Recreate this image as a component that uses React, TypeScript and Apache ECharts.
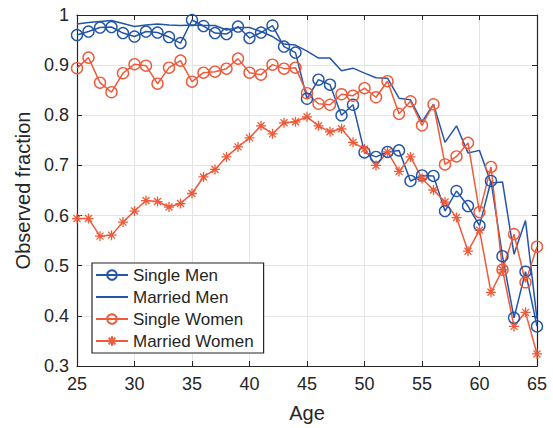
import React, { useEffect, useRef } from "react";
import * as echarts from "echarts";

const ages = [25,26,27,28,29,30,31,32,33,34,35,36,37,38,39,40,41,42,43,44,45,46,47,48,49,50,51,52,53,54,55,56,57,58,59,60,61,62,63,64,65];

const singleMen = [0.960,0.967,0.975,0.976,0.964,0.957,0.967,0.965,0.956,0.944,
  0.990,0.978,0.964,0.962,0.977,0.954,0.965,0.979,0.937,0.925,
  0.833,0.871,0.861,0.800,0.821,0.726,0.717,0.727,0.730,0.669,
  0.680,0.679,0.609,0.649,0.619,0.580,0.669,0.519,0.396,0.488,
  0.379];

const marriedMen = [0.982,0.985,0.987,0.989,0.983,0.977,0.980,0.982,0.980,0.979,
  0.980,0.979,0.979,0.970,0.975,0.975,0.967,0.957,0.942,0.940,
  0.928,0.914,0.914,0.889,0.894,0.884,0.875,0.874,0.834,0.831,
  0.787,0.822,0.746,0.779,0.725,0.730,0.665,0.667,0.523,0.590,
  0.394];

const singleWomen = [0.894,0.915,0.865,0.846,0.884,0.902,0.899,0.863,0.895,0.909,
  0.867,0.885,0.887,0.893,0.913,0.885,0.881,0.901,0.893,0.895,
  0.844,0.823,0.821,0.842,0.839,0.854,0.836,0.868,0.803,0.828,
  0.780,0.822,0.702,0.718,0.745,0.607,0.697,0.492,0.563,0.467,
  0.538];

const marriedWomen = [0.594,0.594,0.559,0.561,0.587,0.609,0.630,0.628,0.617,0.624,
  0.644,0.677,0.692,0.717,0.737,0.755,0.779,0.763,0.785,0.787,
  0.797,0.779,0.767,0.773,0.746,0.733,0.700,0.727,0.688,0.717,
  0.674,0.651,0.627,0.596,0.529,0.571,0.447,0.492,0.379,0.407,
  0.324];

const seriesNames = ["Single Men", "Married Men", "Single Women", "Married Women"];

const BLUE = "#2356a8";
const ORANGE = "#ef5a3a";
const TEXT = "#262626";
const FONT = "Liberation Sans, Arial, sans-serif";
const STAR = "path://M0,-10L0,10M-10,0L10,0M-7,-7L7,7M-7,7L7,-7";

const pairs = (vals: number[]) => ages.map((a, i) => [a, vals[i]]);

export default function App() {
  const ref = useRef<HTMLDivElement>(null);
  useEffect(() => {
    if (!ref.current) return;
    const chart = echarts.init(ref.current, null, { renderer: "svg" });
    const axisLine = { show: true, lineStyle: { color: TEXT, width: 1.2 } };
    const tickIn = { show: true, inside: true, length: 5, lineStyle: { color: TEXT, width: 1 } };
    chart.setOption({
      animation: false,
      backgroundColor: "#ffffff",
      textStyle: { fontFamily: FONT },
      grid: { left: 77, right: 16, top: 15, bottom: 61, containLabel: false },
      legend: {
        data: [
          { name: seriesNames[0] },
          { name: seriesNames[1], itemStyle: { color: "rgba(0,0,0,0)", borderWidth: 0 } },
          { name: seriesNames[2] },
          { name: seriesNames[3] },
        ],
        orient: "vertical",
        left: 92,
        top: 263,
        backgroundColor: "#ffffff",
        borderColor: TEXT,
        borderWidth: 1.2,
        borderRadius: 0,
        padding: [3, 10, 3, 3],
        itemWidth: 32,
        itemHeight: 12,
        itemGap: 4,
        textStyle: { fontSize: 17, color: TEXT, fontFamily: FONT, lineHeight: 18 },
      },
      xAxis: [
        {
          type: "value",
          min: 25,
          max: 65,
          interval: 5,
          name: "Age",
          nameLocation: "middle",
          nameGap: 37,
          nameTextStyle: { fontSize: 20, color: TEXT, fontFamily: FONT },
          axisLine,
          axisTick: tickIn,
          axisLabel: { fontSize: 18, color: TEXT, margin: 9, fontFamily: FONT },
          splitLine: { show: true, lineStyle: { color: "#e4e4e4", width: 1 } },
        },
        {
          type: "value",
          position: "top",
          min: 25,
          max: 65,
          interval: 5,
          axisLine,
          axisTick: tickIn,
          axisLabel: { show: false },
          splitLine: { show: false },
        },
      ],
      yAxis: [
        {
          type: "value",
          min: 0.3,
          max: 1,
          interval: 0.1,
          name: "Observed fraction",
          nameLocation: "middle",
          nameGap: 42,
          nameTextStyle: { fontSize: 20, color: TEXT, fontFamily: FONT },
          axisLine,
          axisTick: tickIn,
          axisLabel: {
            fontSize: 18,
            color: TEXT,
            margin: 8,
            fontFamily: FONT,
            formatter: (v: number) => String(Math.round(v * 10) / 10),
          },
          splitLine: { show: true, lineStyle: { color: "#e4e4e4", width: 1 } },
        },
        {
          type: "value",
          position: "right",
          min: 0.3,
          max: 1,
          interval: 0.1,
          axisLine,
          axisTick: tickIn,
          axisLabel: { show: false },
          splitLine: { show: false },
        },
      ],
      series: [
        {
          name: seriesNames[0],
          type: "line",
          data: pairs(singleMen),
          symbol: "circle",
          symbolSize: 11,
          lineStyle: { color: BLUE, width: 1.5 },
          itemStyle: { color: "rgba(255,255,255,0)", borderColor: BLUE, borderWidth: 1.4 },
        },
        {
          name: seriesNames[1],
          type: "line",
          data: pairs(marriedMen),
          symbol: "none",
          lineStyle: { color: BLUE, width: 1.5 },
          itemStyle: { color: "rgba(0,0,0,0)", borderWidth: 0 },
        },
        {
          name: seriesNames[2],
          type: "line",
          data: pairs(singleWomen),
          symbol: "circle",
          symbolSize: 11,
          lineStyle: { color: ORANGE, width: 1.5 },
          itemStyle: { color: "rgba(255,255,255,0)", borderColor: ORANGE, borderWidth: 1.4 },
        },
        {
          name: seriesNames[3],
          type: "line",
          data: pairs(marriedWomen),
          symbol: STAR,
          symbolSize: 10,
          lineStyle: { color: ORANGE, width: 1.5 },
          itemStyle: { color: ORANGE, borderColor: ORANGE, borderWidth: 1.3 },
        },
      ],
    });
    return () => chart.dispose();
  }, []);
  return (
    <div
      ref={ref}
      style={{ position: "fixed", left: 0, top: 0, width: 553, height: 428 }}
    />
  );
}
